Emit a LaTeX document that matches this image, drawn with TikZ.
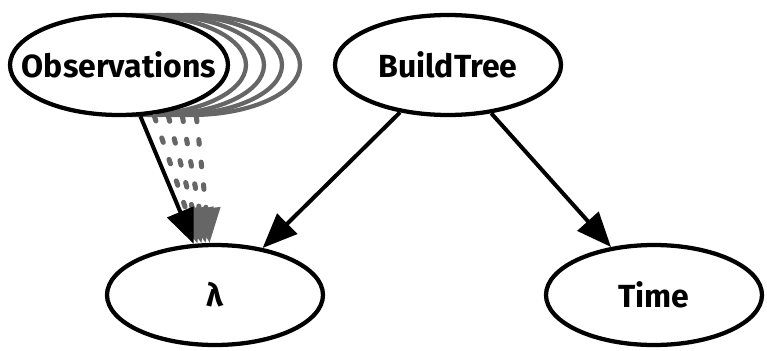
\documentclass[tikz,border=0pt]{standalone}
\usepackage{fontspec}
\setmainfont{Fira Sans}
\usetikzlibrary{shapes.geometric,arrows.meta}
\definecolor{copygray}{HTML}{666666}
\newcommand{\vlabel}[1]{\makebox[0pt]{\bfseries #1}} % texto sem alargar a elipse
\tikzset{
  var/.style={ellipse, draw, line width=3.2pt, fill=white, inner sep=0pt,
    minimum height=75pt, font=\fontsize{24}{28}\selectfont},
  varcopy/.style={var, draw=copygray},
  edge/.style={line width=3pt, -{Triangle[length=26pt,width=21pt]}},
  copyedge/.style={edge, copygray, line width=3.8pt, dash pattern=on 3.5pt off 13.5pt, line cap=round}
}
\begin{document}
\begin{tikzpicture}[x=0.75pt, y=-0.75pt]
    \useasboundingbox (0,0) rectangle (767,350); % Margens
    \foreach \i in {4,3,2,1}{
        \node[varcopy, minimum width=163.5pt] (obs\i) at (119+18*\i,65) {}; % Copias
    }
    \node[var, minimum width=163.5pt] (obs) at (119,65) {\vlabel{Observations}};
    \node[var, minimum width=169.5pt] (build) at (448,65) {\vlabel{BuildTree}};
    \node[var, minimum width=162pt] (lam) at (215,295) {\vlabel{λ}};
    \node[var, minimum width=162pt] (time) at (654,295) {\vlabel{Time}};
    \foreach \i in {1,...,4}{
        \draw[copyedge] (obs\i) -- (lam); % Arestas das copias
    }
    \draw[edge] (obs) -- (lam);
    \draw[edge] (build) -- (lam);
    \draw[edge] (build) -- (time);
\end{tikzpicture}
\end{document}
